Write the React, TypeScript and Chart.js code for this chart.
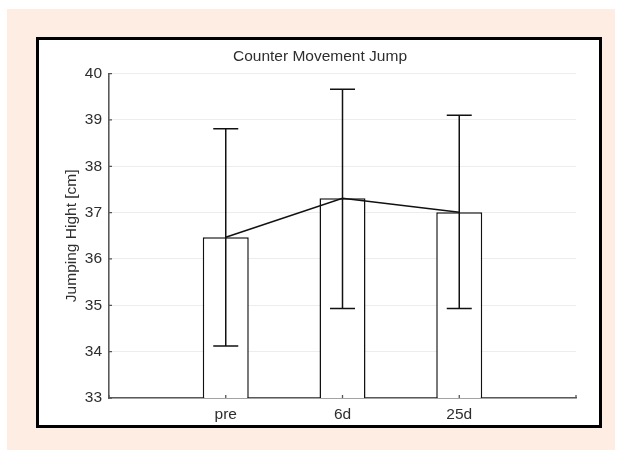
import React, { useEffect, useRef } from "react";
import { Chart, registerables } from "chart.js";

Chart.register(...registerables);

const categories = ["pre", "6d", "25d"];
const means = [36.47, 37.31, 37.01];
const errLow = [34.12, 34.93, 34.93];
const errHigh = [38.81, 39.66, 39.1];
const yTicks = [33, 34, 35, 36, 37, 38, 39, 40];

const FONT = "'Liberation Sans', Arial, Helvetica, sans-serif";

const errorBarPlugin = {
  id: "errorBars",
  afterDatasetsDraw(chart: any) {
    const { ctx, scales } = chart;
    const xs = scales.x;
    const ys = scales.y;
    ctx.save();
    ctx.strokeStyle = "#111";
    ctx.lineWidth = 1.5;
    categories.forEach((_, i) => {
      const x = xs.getPixelForValue(i + 1);
      const yl = ys.getPixelForValue(errLow[i]);
      const yh = ys.getPixelForValue(errHigh[i]);
      const cap = 12.5;
      ctx.beginPath();
      ctx.moveTo(x, yl);
      ctx.lineTo(x, yh);
      ctx.moveTo(x - cap, yl);
      ctx.lineTo(x + cap, yl);
      ctx.moveTo(x - cap, yh);
      ctx.lineTo(x + cap, yh);
      ctx.stroke();
    });
    ctx.restore();
  },
  afterDraw(chart: any) {
    const { ctx, scales, chartArea } = chart;
    const xs = scales.x;
    const ys = scales.y;
    ctx.save();
    ctx.strokeStyle = "#555";
    ctx.lineWidth = 1.3;
    ctx.beginPath();
    yTicks.forEach((v) => {
      const y = ys.getPixelForValue(v);
      ctx.moveTo(chartArea.left, y);
      ctx.lineTo(chartArea.left + 3, y);
    });
    const xv = [xs.min, ...categories.map((_, i) => i + 1), xs.max];
    xv.forEach((v) => {
      const x = xs.getPixelForValue(v);
      ctx.moveTo(x, chartArea.bottom);
      ctx.lineTo(x, chartArea.bottom - 3);
    });
    ctx.stroke();
    ctx.restore();
  },
};

export default function App() {
  const ref = useRef<HTMLCanvasElement | null>(null);

  useEffect(() => {
    if (!ref.current) return;
    const chart = new Chart(ref.current, {
      type: "bar",
      data: {
        datasets: [
          {
            type: "line",
            data: categories.map((_, i) => ({ x: i + 1, y: means[i] })),
            borderColor: "#111",
            borderWidth: 1.5,
            pointRadius: 0,
            tension: 0,
            fill: false,
            order: 0,
          } as any,
          {
            type: "bar",
            data: categories.map((_, i) => ({ x: i + 1, y: means[i] })),
            backgroundColor: "#ffffff",
            borderColor: "#111",
            borderWidth: 1.5,
            borderSkipped: false,
            barPercentage: 0.394,
            categoryPercentage: 1,
            order: 1,
          } as any,
        ],
      },
      options: {
        animation: false,
        responsive: false,
        layout: { padding: { left: 25, right: 23, top: 0, bottom: 0 } },
        plugins: {
          legend: { display: false },
          tooltip: { enabled: false },
          title: {
            display: true,
            text: "Counter Movement Jump",
            color: "#2e2e2e",
            font: { family: FONT, size: 15.5, weight: "normal" },
            padding: { top: 7, bottom: 8 },
          },
        },
        scales: {
          x: {
            type: "linear",
            min: 0,
            max: 4,
            offset: false,
            afterBuildTicks: (scale: any) => {
              scale.ticks = categories.map((_, i) => ({ value: i + 1 }));
            },
            afterFit: (scale: any) => {
              scale.height = 27;
            },
            ticks: {
              color: "#2e2e2e",
              font: { family: FONT, size: 15.5 },
              padding: 7,
              maxRotation: 0,
              autoSkip: false,
              callback: (v: any) => categories[Number(v) - 1] ?? "",
            },
            grid: { display: false, drawTicks: false, offset: false },
            border: { display: true, color: "#5a5a5a", width: 1.6 },
          },
          y: {
            type: "linear",
            min: 33,
            max: 40,
            afterBuildTicks: (scale: any) => {
              scale.ticks = yTicks.map((v) => ({ value: v }));
            },
            afterFit: (scale: any) => {
              scale.width = 45;
            },
            ticks: {
              color: "#2e2e2e",
              font: { family: FONT, size: 15.5 },
              padding: 7,
            },
            grid: {
              color: "#ededed",
              lineWidth: 1,
              drawTicks: false,
            },
            border: { display: true, color: "#5a5a5a", width: 1.6 },
            title: {
              display: true,
              text: "Jumping Hight [cm]",
              color: "#2e2e2e",
              font: { family: FONT, size: 15.5 },
              padding: { top: -1.3, bottom: 0 },
            },
          },
        },
      } as any,
      plugins: [errorBarPlugin],
    });
    return () => chart.destroy();
  }, []);

  return (
    <div
      style={{
        position: "absolute",
        left: 0,
        top: 0,
        width: 619,
        height: 450,
        background: "#ffffff",
        overflow: "hidden",
      }}
    >
      <div
        style={{
          position: "absolute",
          left: 7,
          top: 9,
          width: 608,
          height: 441,
          background: "#fdede3",
        }}
      />
      <div
        style={{
          position: "absolute",
          left: 36,
          top: 37,
          width: 566,
          height: 391,
          boxSizing: "border-box",
          border: "3px solid #000",
          background: "#ffffff",
        }}
      />
      <canvas
        ref={ref}
        width={560}
        height={385}
        style={{ position: "absolute", left: 39, top: 40, width: 560, height: 385 }}
      />
    </div>
  );
}
